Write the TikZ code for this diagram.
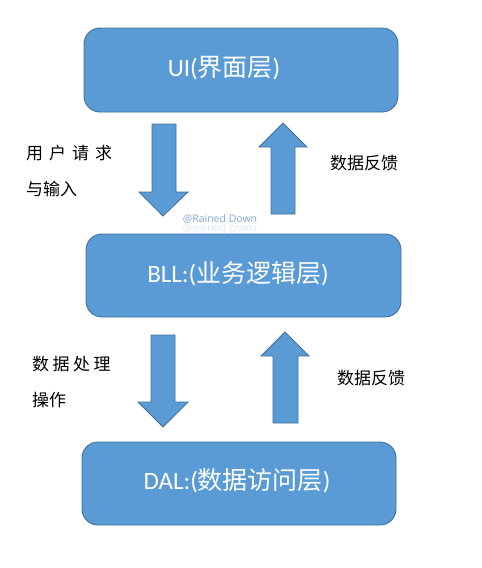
\documentclass[tikz,border=0pt]{standalone}
\usepackage{fontspec}
\setmainfont{Carlito}
\newfontfamily\cjk{Noto Sans CJK SC}
\newfontfamily\wm{Open Sans}
\definecolor{boxfill}{HTML}{5B9BD5}
\definecolor{boxline}{HTML}{41719C}
\definecolor{wmblue}{HTML}{7FA8DA}
\begin{document}
\begin{tikzpicture}[x=1pt,y=-1pt,
  layerbox/.style={draw=boxline,fill=boxfill,line width=0.9pt,rounded corners=16pt},
  blockarrow/.style={draw=boxline,fill=boxfill,line width=0.8pt,line join=miter},
  layertext/.style={text=white,font=\fontsize{25}{28}\selectfont,inner sep=0pt},
  lbl/.style={anchor=west,inner sep=0pt,font=\cjk\fontsize{17}{20}\selectfont}]
\useasboundingbox (0,0) rectangle (482,568);
\fill[white] (0,0) rectangle (482,568);
% layer boxes
\draw[layerbox] (84,28) rectangle (398,112);
\draw[layerbox] (86,234) rectangle (401,317);
\draw[layerbox] (82,442) rectangle (396,525);
\node[layertext] (ui)  at (224,68)  {UI({\cjk 界面层})};
\node[layertext] (bll) at (238,274) {BLL:({\cjk 业务逻辑层})};
\node[layertext] (dal) at (237,481) {DAL:({\cjk 数据访问层})};
% arrows UI <-> BLL
\draw[blockarrow] (152,124) -- (176,124) -- (176,192) -- (188,192) -- (163,216) -- (139,192) -- (152,192) -- cycle;
\draw[blockarrow] (283,123) -- (307,147) -- (295,147) -- (295,214) -- (271,214) -- (271,147) -- (259,147) -- cycle;
% arrows BLL <-> DAL
\draw[blockarrow] (151,335) -- (175,335) -- (175,402) -- (188,402) -- (163,427) -- (138,402) -- (151,402) -- cycle;
\draw[blockarrow] (285,332) -- (309,356) -- (298,356) -- (298,423) -- (273,423) -- (273,356) -- (261,356) -- cycle;
% labels
\node[lbl] (req1) at (26,153) {\spaceskip=6pt\relax 用 户 请 求};
\node[lbl] (req2) at (26,189) {与输入};
\node[lbl] (fb1) at (330,163) {数据反馈};
\node[lbl] (op1) at (32,364) {\spaceskip=3.5pt\relax 数 据 处 理};
\node[lbl] (op2) at (32,400) {操作};
\node[lbl] (fb2) at (337,378) {数据反馈};
% watermark
\node[text=wmblue,font=\wm\fontsize{10.5}{12}\selectfont,inner sep=0pt] (wm) at (220,219) {@Rained Down};
\node[text=wmblue,opacity=0.25,yscale=-1,font=\wm\fontsize{10.5}{12}\selectfont,inner sep=0pt] (wmr) at (220,229) {@Rained Down};
\end{tikzpicture}
\end{document}
